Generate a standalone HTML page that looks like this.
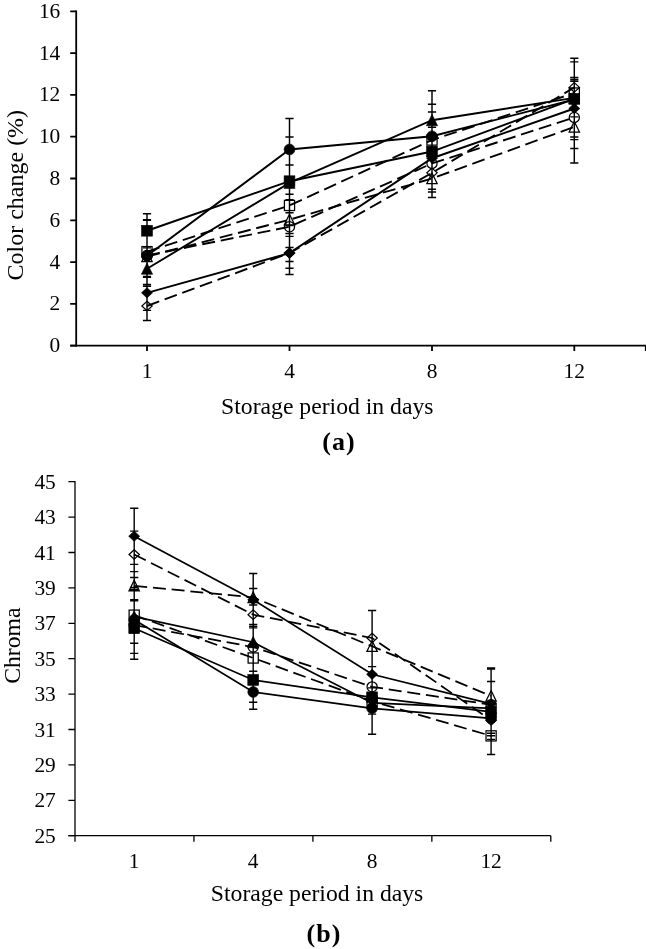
<!DOCTYPE html>
<html><head><meta charset="utf-8"><title>chart</title>
<style>html,body{margin:0;padding:0;background:#fff}svg{display:block;will-change:transform}</style></head>
<body>
<svg width="646" height="949" viewBox="0 0 646 949">
<rect width="646" height="949" fill="#fff"/>
<g fill="none" stroke="#000">
<polyline points="147.00,292.82 289.50,253.11 432.00,158.23 574.30,108.49" stroke-width="1.9"/>
<polyline points="147.00,230.75 289.50,181.22 432.00,151.54 574.30,98.87" stroke-width="1.9"/>
<polyline points="147.00,268.79 289.50,182.89 432.00,120.19 574.30,97.83" stroke-width="1.9"/>
<polyline points="147.00,255.83 289.50,149.45 432.00,136.28 574.30,99.50" stroke-width="1.9"/>
<polyline points="147.00,305.99 289.50,253.11 432.00,172.86 574.30,87.38" stroke-width="1.9" stroke-dasharray="13 5.8"/>
<polyline points="147.00,251.65 289.50,205.46 432.00,140.04 574.30,93.02" stroke-width="1.9" stroke-dasharray="13 5.8"/>
<polyline points="147.00,256.46 289.50,219.67 432.00,178.50 574.30,126.88" stroke-width="1.9" stroke-dasharray="13 5.8"/>
<polyline points="147.00,255.41 289.50,226.78 432.00,163.45 574.30,117.47" stroke-width="1.9" stroke-dasharray="13 5.8"/>
<path d="M147.00 213.82V320.41M142.90 213.82h8.2M142.90 219.67h8.2M142.90 220.30h8.2M142.90 247.89h8.2M142.90 276.52h8.2M142.90 277.36h8.2M142.90 284.46h8.2M142.90 286.34h8.2M142.90 310.38h8.2M142.90 320.41h8.2" stroke-width="1.45"/>
<path d="M289.50 118.52V274.43M285.40 118.52h8.2M285.40 136.91h8.2M285.40 164.91h8.2M285.40 194.18h8.2M285.40 199.61h8.2M285.40 212.78h8.2M285.40 225.52h8.2M285.40 233.47h8.2M285.40 236.39h8.2M285.40 247.47h8.2M285.40 261.47h8.2M285.40 268.16h8.2M285.40 274.43h8.2" stroke-width="1.45"/>
<path d="M432.00 90.72V197.52M427.90 90.72h8.2M427.90 104.30h8.2M427.90 112.04h8.2M427.90 127.30h8.2M427.90 189.16h8.2M427.90 192.09h8.2M427.90 197.52h8.2" stroke-width="1.45"/>
<path d="M574.30 58.32V163.03M570.20 58.32h8.2M570.20 61.88h8.2M570.20 77.55h8.2M570.20 79.43h8.2M570.20 81.31h8.2M570.20 116.85h8.2M570.20 136.91h8.2M570.20 139.63h8.2M570.20 148.40h8.2M570.20 163.03h8.2" stroke-width="1.45"/>
</g>
<path d="M147.00 287.68L152.54 292.82L147.00 297.96L141.46 292.82Z" fill="#000" stroke="#000" stroke-width="0.6"/>
<path d="M289.50 247.97L295.04 253.11L289.50 258.25L283.96 253.11Z" fill="#000" stroke="#000" stroke-width="0.6"/>
<path d="M432.00 153.09L437.54 158.23L432.00 163.37L426.46 158.23Z" fill="#000" stroke="#000" stroke-width="0.6"/>
<path d="M574.30 103.35L579.84 108.49L574.30 113.63L568.76 108.49Z" fill="#000" stroke="#000" stroke-width="0.6"/>
<rect x="141.60" y="225.35" width="10.80" height="10.80" fill="#000" stroke="#000" stroke-width="0.6"/>
<rect x="284.10" y="175.82" width="10.80" height="10.80" fill="#000" stroke="#000" stroke-width="0.6"/>
<rect x="426.60" y="146.14" width="10.80" height="10.80" fill="#000" stroke="#000" stroke-width="0.6"/>
<rect x="568.90" y="93.47" width="10.80" height="10.80" fill="#000" stroke="#000" stroke-width="0.6"/>
<path d="M147.00 262.99L152.61 274.29L141.39 274.29Z" fill="#000" stroke="#000" stroke-width="0.6" stroke-linejoin="miter"/>
<path d="M289.50 177.09L295.11 188.39L283.89 188.39Z" fill="#000" stroke="#000" stroke-width="0.6" stroke-linejoin="miter"/>
<path d="M432.00 114.39L437.61 125.69L426.39 125.69Z" fill="#000" stroke="#000" stroke-width="0.6" stroke-linejoin="miter"/>
<path d="M574.30 92.03L579.91 103.33L568.69 103.33Z" fill="#000" stroke="#000" stroke-width="0.6" stroke-linejoin="miter"/>
<circle cx="147.00" cy="255.83" r="5.40" fill="#000" stroke="#000" stroke-width="0.6"/>
<circle cx="289.50" cy="149.45" r="5.40" fill="#000" stroke="#000" stroke-width="0.6"/>
<circle cx="432.00" cy="136.28" r="5.40" fill="#000" stroke="#000" stroke-width="0.6"/>
<circle cx="574.30" cy="99.50" r="5.40" fill="#000" stroke="#000" stroke-width="0.6"/>
<path d="M147.00 301.23L152.16 305.99L147.00 310.75L141.84 305.99Z" fill="none" stroke="#000" stroke-width="1.25"/>
<path d="M289.50 248.36L294.66 253.11L289.50 257.87L284.34 253.11Z" fill="none" stroke="#000" stroke-width="1.25"/>
<path d="M432.00 168.10L437.16 172.86L432.00 177.61L426.84 172.86Z" fill="none" stroke="#000" stroke-width="1.25"/>
<path d="M574.30 82.62L579.46 87.38L574.30 92.13L569.14 87.38Z" fill="none" stroke="#000" stroke-width="1.25"/>
<rect x="141.92" y="246.57" width="10.16" height="10.16" fill="none" stroke="#000" stroke-width="1.25"/>
<rect x="284.42" y="200.38" width="10.16" height="10.16" fill="none" stroke="#000" stroke-width="1.25"/>
<rect x="426.92" y="134.96" width="10.16" height="10.16" fill="none" stroke="#000" stroke-width="1.25"/>
<rect x="569.22" y="87.94" width="10.16" height="10.16" fill="none" stroke="#000" stroke-width="1.25"/>
<path d="M147.00 250.98L152.19 261.64L141.81 261.64Z" fill="none" stroke="#000" stroke-width="1.25" stroke-linejoin="miter"/>
<path d="M289.50 214.19L294.69 224.85L284.31 224.85Z" fill="none" stroke="#000" stroke-width="1.25" stroke-linejoin="miter"/>
<path d="M432.00 173.02L437.19 183.68L426.81 183.68Z" fill="none" stroke="#000" stroke-width="1.25" stroke-linejoin="miter"/>
<path d="M574.30 121.40L579.49 132.06L569.11 132.06Z" fill="none" stroke="#000" stroke-width="1.25" stroke-linejoin="miter"/>
<circle cx="147.00" cy="255.41" r="5.08" fill="none" stroke="#000" stroke-width="1.25"/>
<circle cx="289.50" cy="226.78" r="5.08" fill="none" stroke="#000" stroke-width="1.25"/>
<circle cx="432.00" cy="163.45" r="5.08" fill="none" stroke="#000" stroke-width="1.25"/>
<circle cx="574.30" cy="117.47" r="5.08" fill="none" stroke="#000" stroke-width="1.25"/>
<g fill="none" stroke="#000" stroke-width="1.8">
<path d="M76.20 10.40V346.60"/>
<path d="M70.20 345.70H646.60"/>
<path d="M70.20 345.70H76.20M70.20 303.90H76.20M70.20 262.10H76.20M70.20 220.30H76.20M70.20 178.50H76.20M70.20 136.70H76.20M70.20 94.90H76.20M70.20 53.10H76.20M70.20 11.30H76.20M147.00 345.70V350.90M289.50 345.70V350.90M432.00 345.70V350.90M574.30 345.70V350.90M645.80 345.70V350.90"/>
</g>
<g font-family="Liberation Serif, serif" font-size="21.4" fill="#000">
<text x="60.3" y="352.10" text-anchor="end">0</text>
<text x="60.3" y="310.30" text-anchor="end">2</text>
<text x="60.3" y="268.50" text-anchor="end">4</text>
<text x="60.3" y="226.70" text-anchor="end">6</text>
<text x="60.3" y="184.90" text-anchor="end">8</text>
<text x="60.3" y="143.10" text-anchor="end">10</text>
<text x="60.3" y="101.30" text-anchor="end">12</text>
<text x="60.3" y="59.50" text-anchor="end">14</text>
<text x="60.3" y="17.70" text-anchor="end">16</text>
<text x="147.00" y="377.7" text-anchor="middle">1</text>
<text x="289.50" y="377.7" text-anchor="middle">4</text>
<text x="432.00" y="377.7" text-anchor="middle">8</text>
<text x="574.30" y="377.7" text-anchor="middle">12</text>
</g>
<text transform="translate(23.1 195.2) rotate(-90)" text-anchor="middle" font-family="Liberation Serif, serif" font-size="24">Color change (%)</text>
<text x="327.3" y="414.2" text-anchor="middle" font-family="Liberation Serif, serif" font-size="23.7">Storage period in days</text>
<text x="338.9" y="450.2" text-anchor="middle" font-family="Liberation Serif, serif" font-size="26" letter-spacing="1" font-weight="bold">(a)</text>
<g fill="none" stroke="#000">
<polyline points="134.20,536.22 253.20,599.76 372.10,674.28 491.10,703.84" stroke-width="1.75"/>
<polyline points="134.20,628.26 253.20,679.94 372.10,697.29 491.10,711.80" stroke-width="1.75"/>
<polyline points="134.20,616.57 253.20,642.24 372.10,702.95 491.10,708.26" stroke-width="1.75"/>
<polyline points="134.20,619.76 253.20,691.98 372.10,708.26 491.10,718.35" stroke-width="1.75"/>
<polyline points="134.20,554.45 253.20,614.63 372.10,637.99 491.10,720.30" stroke-width="1.75" stroke-dasharray="13 5.8"/>
<polyline points="134.20,615.16 253.20,657.99 372.10,701.18 491.10,735.87" stroke-width="1.75" stroke-dasharray="13 5.8"/>
<polyline points="134.20,585.78 253.20,597.46 372.10,646.31 491.10,696.05" stroke-width="1.75" stroke-dasharray="13 5.8"/>
<polyline points="134.20,625.07 253.20,647.02 372.10,686.84 491.10,704.72" stroke-width="1.75" stroke-dasharray="13 5.8"/>
<path d="M134.20 508.25V659.23M130.10 508.25h8.2M130.10 531.08h8.2M130.10 564.36h8.2M130.10 571.62h8.2M130.10 577.46h8.2M130.10 587.37h8.2M130.10 589.32h8.2M130.10 590.38h8.2M130.10 599.76h8.2M130.10 600.82h8.2M130.10 643.30h8.2M130.10 653.39h8.2M130.10 659.23h8.2" stroke-width="1.4"/>
<path d="M253.20 573.56V709.32M249.10 573.56h8.2M249.10 588.43h8.2M249.10 605.07h8.2M249.10 624.36h8.2M249.10 626.31h8.2M249.10 627.90h8.2M249.10 671.27h8.2M249.10 702.24h8.2M249.10 709.32h8.2" stroke-width="1.4"/>
<path d="M372.10 610.56V734.28M368.00 610.56h8.2M368.00 666.67h8.2M368.00 687.90h8.2M368.00 714.10h8.2M368.00 734.28h8.2" stroke-width="1.4"/>
<path d="M491.10 667.90V754.46M487.00 667.90h8.2M487.00 668.97h8.2M487.00 681.53h8.2M487.00 733.22h8.2M487.00 735.70h8.2M487.00 739.41h8.2M487.00 754.46h8.2" stroke-width="1.4"/>
</g>
<path d="M134.20 531.08L139.74 536.22L134.20 541.36L128.66 536.22Z" fill="#000" stroke="#000" stroke-width="0.6"/>
<path d="M253.20 594.62L258.74 599.76L253.20 604.90L247.66 599.76Z" fill="#000" stroke="#000" stroke-width="0.6"/>
<path d="M372.10 669.14L377.64 674.28L372.10 679.42L366.56 674.28Z" fill="#000" stroke="#000" stroke-width="0.6"/>
<path d="M491.10 698.70L496.64 703.84L491.10 708.98L485.56 703.84Z" fill="#000" stroke="#000" stroke-width="0.6"/>
<rect x="128.80" y="622.86" width="10.80" height="10.80" fill="#000" stroke="#000" stroke-width="0.6"/>
<rect x="247.80" y="674.54" width="10.80" height="10.80" fill="#000" stroke="#000" stroke-width="0.6"/>
<rect x="366.70" y="691.89" width="10.80" height="10.80" fill="#000" stroke="#000" stroke-width="0.6"/>
<rect x="485.70" y="706.40" width="10.80" height="10.80" fill="#000" stroke="#000" stroke-width="0.6"/>
<path d="M134.20 610.77L139.81 622.07L128.59 622.07Z" fill="#000" stroke="#000" stroke-width="0.6" stroke-linejoin="miter"/>
<path d="M253.20 636.44L258.81 647.74L247.59 647.74Z" fill="#000" stroke="#000" stroke-width="0.6" stroke-linejoin="miter"/>
<path d="M372.10 697.15L377.71 708.45L366.49 708.45Z" fill="#000" stroke="#000" stroke-width="0.6" stroke-linejoin="miter"/>
<path d="M491.10 702.46L496.71 713.76L485.49 713.76Z" fill="#000" stroke="#000" stroke-width="0.6" stroke-linejoin="miter"/>
<circle cx="134.20" cy="619.76" r="5.40" fill="#000" stroke="#000" stroke-width="0.6"/>
<circle cx="253.20" cy="691.98" r="5.40" fill="#000" stroke="#000" stroke-width="0.6"/>
<circle cx="372.10" cy="708.26" r="5.40" fill="#000" stroke="#000" stroke-width="0.6"/>
<circle cx="491.10" cy="718.35" r="5.40" fill="#000" stroke="#000" stroke-width="0.6"/>
<path d="M134.20 549.69L139.36 554.45L134.20 559.20L129.04 554.45Z" fill="none" stroke="#000" stroke-width="1.25"/>
<path d="M253.20 609.87L258.36 614.63L253.20 619.38L248.04 614.63Z" fill="none" stroke="#000" stroke-width="1.25"/>
<path d="M372.10 633.24L377.26 637.99L372.10 642.75L366.94 637.99Z" fill="none" stroke="#000" stroke-width="1.25"/>
<path d="M491.10 715.54L496.26 720.30L491.10 725.05L485.94 720.30Z" fill="none" stroke="#000" stroke-width="1.25"/>
<rect x="129.12" y="610.08" width="10.16" height="10.16" fill="none" stroke="#000" stroke-width="1.25"/>
<rect x="248.12" y="652.91" width="10.16" height="10.16" fill="none" stroke="#000" stroke-width="1.25"/>
<rect x="367.02" y="696.10" width="10.16" height="10.16" fill="none" stroke="#000" stroke-width="1.25"/>
<rect x="486.02" y="730.79" width="10.16" height="10.16" fill="none" stroke="#000" stroke-width="1.25"/>
<path d="M134.20 580.30L139.39 590.96L129.01 590.96Z" fill="none" stroke="#000" stroke-width="1.25" stroke-linejoin="miter"/>
<path d="M253.20 591.98L258.39 602.64L248.01 602.64Z" fill="none" stroke="#000" stroke-width="1.25" stroke-linejoin="miter"/>
<path d="M372.10 640.83L377.29 651.49L366.91 651.49Z" fill="none" stroke="#000" stroke-width="1.25" stroke-linejoin="miter"/>
<path d="M491.10 690.57L496.29 701.23L485.91 701.23Z" fill="none" stroke="#000" stroke-width="1.25" stroke-linejoin="miter"/>
<circle cx="134.20" cy="625.07" r="5.08" fill="none" stroke="#000" stroke-width="1.25"/>
<circle cx="253.20" cy="647.02" r="5.08" fill="none" stroke="#000" stroke-width="1.25"/>
<circle cx="372.10" cy="686.84" r="5.08" fill="none" stroke="#000" stroke-width="1.25"/>
<circle cx="491.10" cy="704.72" r="5.08" fill="none" stroke="#000" stroke-width="1.25"/>
<g fill="none" stroke="#000" stroke-width="1.3">
<path d="M75.00 481.05V841.70"/>
<path d="M68.40 835.70H550.80"/>
<path d="M68.40 835.70H75.00M68.40 800.30H75.00M68.40 764.90H75.00M68.40 729.50H75.00M68.40 694.10H75.00M68.40 658.70H75.00M68.40 623.30H75.00M68.40 587.90H75.00M68.40 552.50H75.00M68.40 517.10H75.00M68.40 481.70H75.00M193.95 835.70V841.70M312.90 835.70V841.70M431.85 835.70V841.70M550.80 835.70V841.70"/>
</g>
<g font-family="Liberation Serif, serif" font-size="21.4" fill="#000">
<text x="55.8" y="842.70" text-anchor="end">25</text>
<text x="55.8" y="807.30" text-anchor="end">27</text>
<text x="55.8" y="771.90" text-anchor="end">29</text>
<text x="55.8" y="736.50" text-anchor="end">31</text>
<text x="55.8" y="701.10" text-anchor="end">33</text>
<text x="55.8" y="665.70" text-anchor="end">35</text>
<text x="55.8" y="630.30" text-anchor="end">37</text>
<text x="55.8" y="594.90" text-anchor="end">39</text>
<text x="55.8" y="559.50" text-anchor="end">41</text>
<text x="55.8" y="524.10" text-anchor="end">43</text>
<text x="55.8" y="488.70" text-anchor="end">45</text>
<text x="134.20" y="868.1" text-anchor="middle">1</text>
<text x="253.20" y="868.1" text-anchor="middle">4</text>
<text x="372.10" y="868.1" text-anchor="middle">8</text>
<text x="491.10" y="868.1" text-anchor="middle">12</text>
</g>
<text transform="translate(19.7 645.7) rotate(-90)" text-anchor="middle" font-family="Liberation Serif, serif" font-size="23.7">Chroma</text>
<text x="317.1" y="901.1" text-anchor="middle" font-family="Liberation Serif, serif" font-size="23.7">Storage period in days</text>
<text x="324.0" y="942.4" text-anchor="middle" font-family="Liberation Serif, serif" font-size="26" letter-spacing="1" font-weight="bold">(b)</text>
</svg>
</body></html>
